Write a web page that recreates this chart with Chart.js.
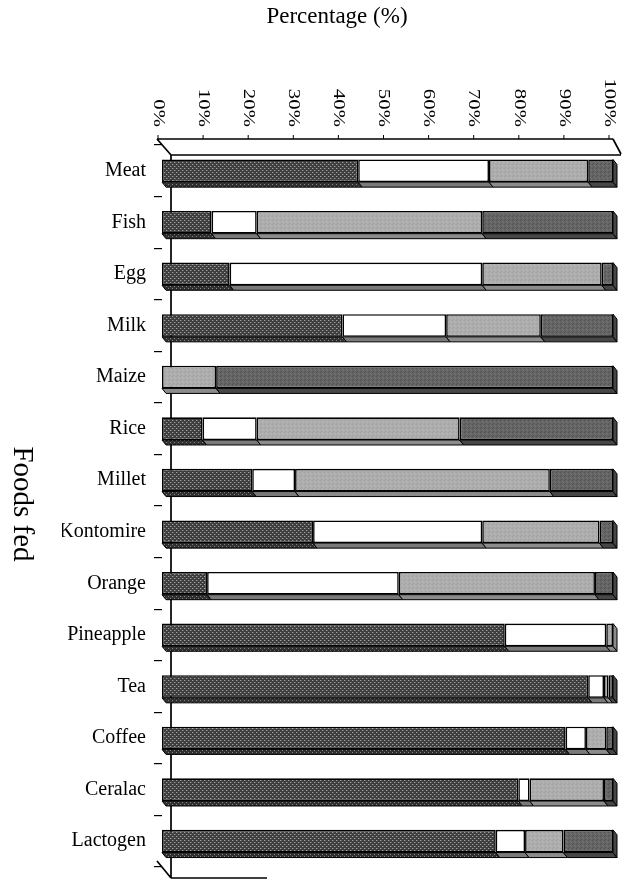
<!DOCTYPE html>
<html>
<head>
<meta charset="utf-8">
<script src="https://cdn.jsdelivr.net/npm/chart.js@4.4.1/dist/chart.umd.min.js"></script>
<style>
  html, body { margin: 0; padding: 0; background: #ffffff; }
  #wrap { width: 625px; height: 887px; position: relative; }
</style>
</head>
<body>
<div id="wrap"><canvas id="c" width="625" height="887"></canvas></div>
<script>
// ---------- data ----------
const categories = ['Meat', 'Fish', 'Egg', 'Milk', 'Maize', 'Rice', 'Millet', 'Kontomire', 'Orange', 'Pineapple', 'Tea', 'Coffee', 'Ceralac', 'Lactogen'];
const series1 = [43.5, 11, 15, 40, 0, 9, 20, 33.5, 10, 76, 94.5, 89.5, 79, 74];      // dark hatched
const series2 = [29, 10, 56, 23, 0, 12, 9.5, 37.5, 42.5, 22.5, 3.5, 4.5, 2.5, 6.5];   // white
const series3 = [22, 50, 26.5, 21, 12, 45, 56.5, 26, 43.5, 1.5, 1, 4.5, 16.5, 8.5];   // light grey
const series4 = [5.5, 29, 2.5, 16, 88, 34, 14, 3, 4, 0, 1, 1.5, 2, 11];              // dark grey
const seriesNames = ['Series 1', 'Series 2', 'Series 3', 'Series 4'];
const tickValues = [0, 10, 20, 30, 40, 50, 60, 70, 80, 90, 100];
const tickLabels = ['0%', '10%', '20%', '30%', '40%', '50%', '60%', '70%', '80%', '90%', '100%'];
const xTitle = 'Percentage (%)';
const yTitle = 'Foods fed';

// ---------- patterns ----------
function makePattern(size, base, dots) {
  const c = document.createElement('canvas');
  c.width = size; c.height = size;
  const g = c.getContext('2d');
  g.fillStyle = base; g.fillRect(0, 0, size, size);
  dots.forEach(d => { g.fillStyle = d[2]; g.fillRect(d[0], d[1], 1, 1); });
  return g.createPattern(c, 'repeat');
}
const hatch = makePattern(4, '#3e3e3e', [[0, 0, '#a0a0a0'], [2, 2, '#a0a0a0'], [1, 0, '#626262'], [3, 2, '#626262']]);
const hatchDark = makePattern(4, '#303030', [[0, 0, '#858585'], [2, 2, '#858585']]);
const darkTex = makePattern(4, '#656565', [[0, 0, '#505050'], [2, 1, '#747474'], [1, 3, '#545454'], [3, 2, '#727272']]);
const lightTex = makePattern(4, '#adadad', [[0, 0, '#a0a0a0'], [2, 1, '#b8b8b8'], [1, 3, '#a4a4a4'], [3, 2, '#b6b6b6']]);

const fills = [hatch, '#ffffff', lightTex, darkTex];
const bottomFills = [hatchDark, '#7a7a7a', '#8c8c8c', '#474747'];
const seriesData = [series1, series2, series3, series4];

const DX = 4, DY = 5;
const FONT = '"Liberation Serif", "DejaVu Serif", serif';

// ---------- plugins ----------
const framePlugin = {
  id: 'frame3d',
  beforeDatasetsDraw(chart) {
    const { ctx, chartArea: a } = chart;
    const L = a.left, R = a.right, T = a.top, B = a.bottom;
    ctx.save();
    ctx.strokeStyle = '#000';
    ctx.lineWidth = 1.7;
    ctx.beginPath();
    ctx.moveTo(L - 5, T - 6); ctx.lineTo(R, T - 6);
    ctx.moveTo(L - 5, T - 6); ctx.lineTo(L + 9, T + 10);
    ctx.moveTo(L + 9, T + 10); ctx.lineTo(R + 8, T + 10);
    ctx.moveTo(R, T - 6); ctx.lineTo(R + 8, T + 9);
    ctx.moveTo(L + 9, T + 10); ctx.lineTo(L + 9, B + 11);
    ctx.moveTo(L - 5, B - 6); ctx.lineTo(L + 9, B + 11);
    ctx.moveTo(L + 9, B + 11); ctx.lineTo(L + 105, B + 11);
    ctx.stroke();
    ctx.restore();
  },
  afterDatasetsDraw(chart) {
    const { ctx } = chart;
    const n = categories.length;
    ctx.save();
    ctx.strokeStyle = '#000';
    ctx.lineWidth = 1;
    for (let i = 0; i < n; i++) {
      let last = null;
      chart.data.datasets.forEach((ds, di) => {
        const el = chart.getDatasetMeta(di).data[i];
        if (!el || !ds.data[i]) return;
        const p = el.getProps(['x', 'y', 'base', 'height'], true);
        const left = Math.min(p.base, p.x), right = Math.max(p.base, p.x);
        const bottom = p.y + p.height / 2;
        ctx.fillStyle = bottomFills[di];
        ctx.beginPath();
        ctx.moveTo(left, bottom); ctx.lineTo(right, bottom);
        ctx.lineTo(right + DX, bottom + DY); ctx.lineTo(left + DX, bottom + DY);
        ctx.closePath(); ctx.fill(); ctx.stroke();
        last = { p, di, right };
      });
      if (last) {
        const top = last.p.y - last.p.height / 2, bottom = last.p.y + last.p.height / 2;
        ctx.fillStyle = bottomFills[last.di];
        ctx.beginPath();
        ctx.moveTo(last.right, top); ctx.lineTo(last.right + DX, top + DY);
        ctx.lineTo(last.right + DX, bottom + DY); ctx.lineTo(last.right, bottom);
        ctx.closePath(); ctx.fill(); ctx.stroke();
      }
    }
    ctx.restore();
  },
  afterDraw(chart) {
    const { ctx, chartArea: a } = chart;
    const xs = chart.scales.x;
    ctx.save();
    ctx.fillStyle = '#000';
    // x tick labels, rotated clockwise
    ctx.font = '16px ' + FONT;
    tickValues.forEach((v, i) => {
      const px = xs.getPixelForValue(v) - 4;
      ctx.save();
      ctx.translate(px, a.top - 18);
      ctx.rotate(Math.PI / 2);
      ctx.scale(1.3, 1);
      ctx.textAlign = 'right';
      ctx.textBaseline = 'middle';
      ctx.fillText(tickLabels[i], 0, 0);
      ctx.restore();
      ctx.beginPath();
      ctx.strokeStyle = '#000';
      ctx.lineWidth = 1;
      ctx.moveTo(px, a.top - 10); ctx.lineTo(px, a.top - 6);
      ctx.stroke();
    });
    // x title
    ctx.font = '23px ' + FONT;
    ctx.textAlign = 'center';
    ctx.textBaseline = 'middle';
    ctx.fillText(xTitle, 337, 17);
    // y title, rotated clockwise
    ctx.save();
    ctx.translate(22, 504);
    ctx.rotate(Math.PI / 2);
    ctx.font = '29px ' + FONT;
    ctx.textAlign = 'center';
    ctx.textBaseline = 'middle';
    ctx.fillText(yTitle, 0, 0);
    ctx.restore();
    ctx.restore();
  }
};

// ---------- chart ----------
new Chart(document.getElementById('c'), {
  type: 'bar',
  data: {
    labels: categories,
    datasets: seriesData.map((d, i) => ({
      label: seriesNames[i],
      data: d,
      backgroundColor: fills[i],
      borderColor: '#000000',
      borderWidth: 1.6,
      borderSkipped: false,
      categoryPercentage: 0.44,
      barPercentage: 1.0
    }))
  },
  options: {
    indexAxis: 'y',
    responsive: false,
    animation: false,
    layout: { padding: { top: 145, bottom: 13, left: 62, right: 12 } },
    plugins: { legend: { display: false }, tooltip: { enabled: false }, title: { display: false } },
    scales: {
      x: {
        stacked: true, min: 0, max: 100, display: false
      },
      y: {
        stacked: true,
        position: 'left',
        afterFit(scale) { scale.width = 100; },
        ticks: {
          color: '#000',
          padding: 8,
          font: { family: FONT, size: 20 }
        },
        grid: { display: true, drawOnChartArea: false, drawTicks: true, tickLength: 8, color: '#000', lineWidth: 1.2, offset: true },
        border: { display: false }
      }
    }
  },
  plugins: [framePlugin]
});
</script>
</body>
</html>
